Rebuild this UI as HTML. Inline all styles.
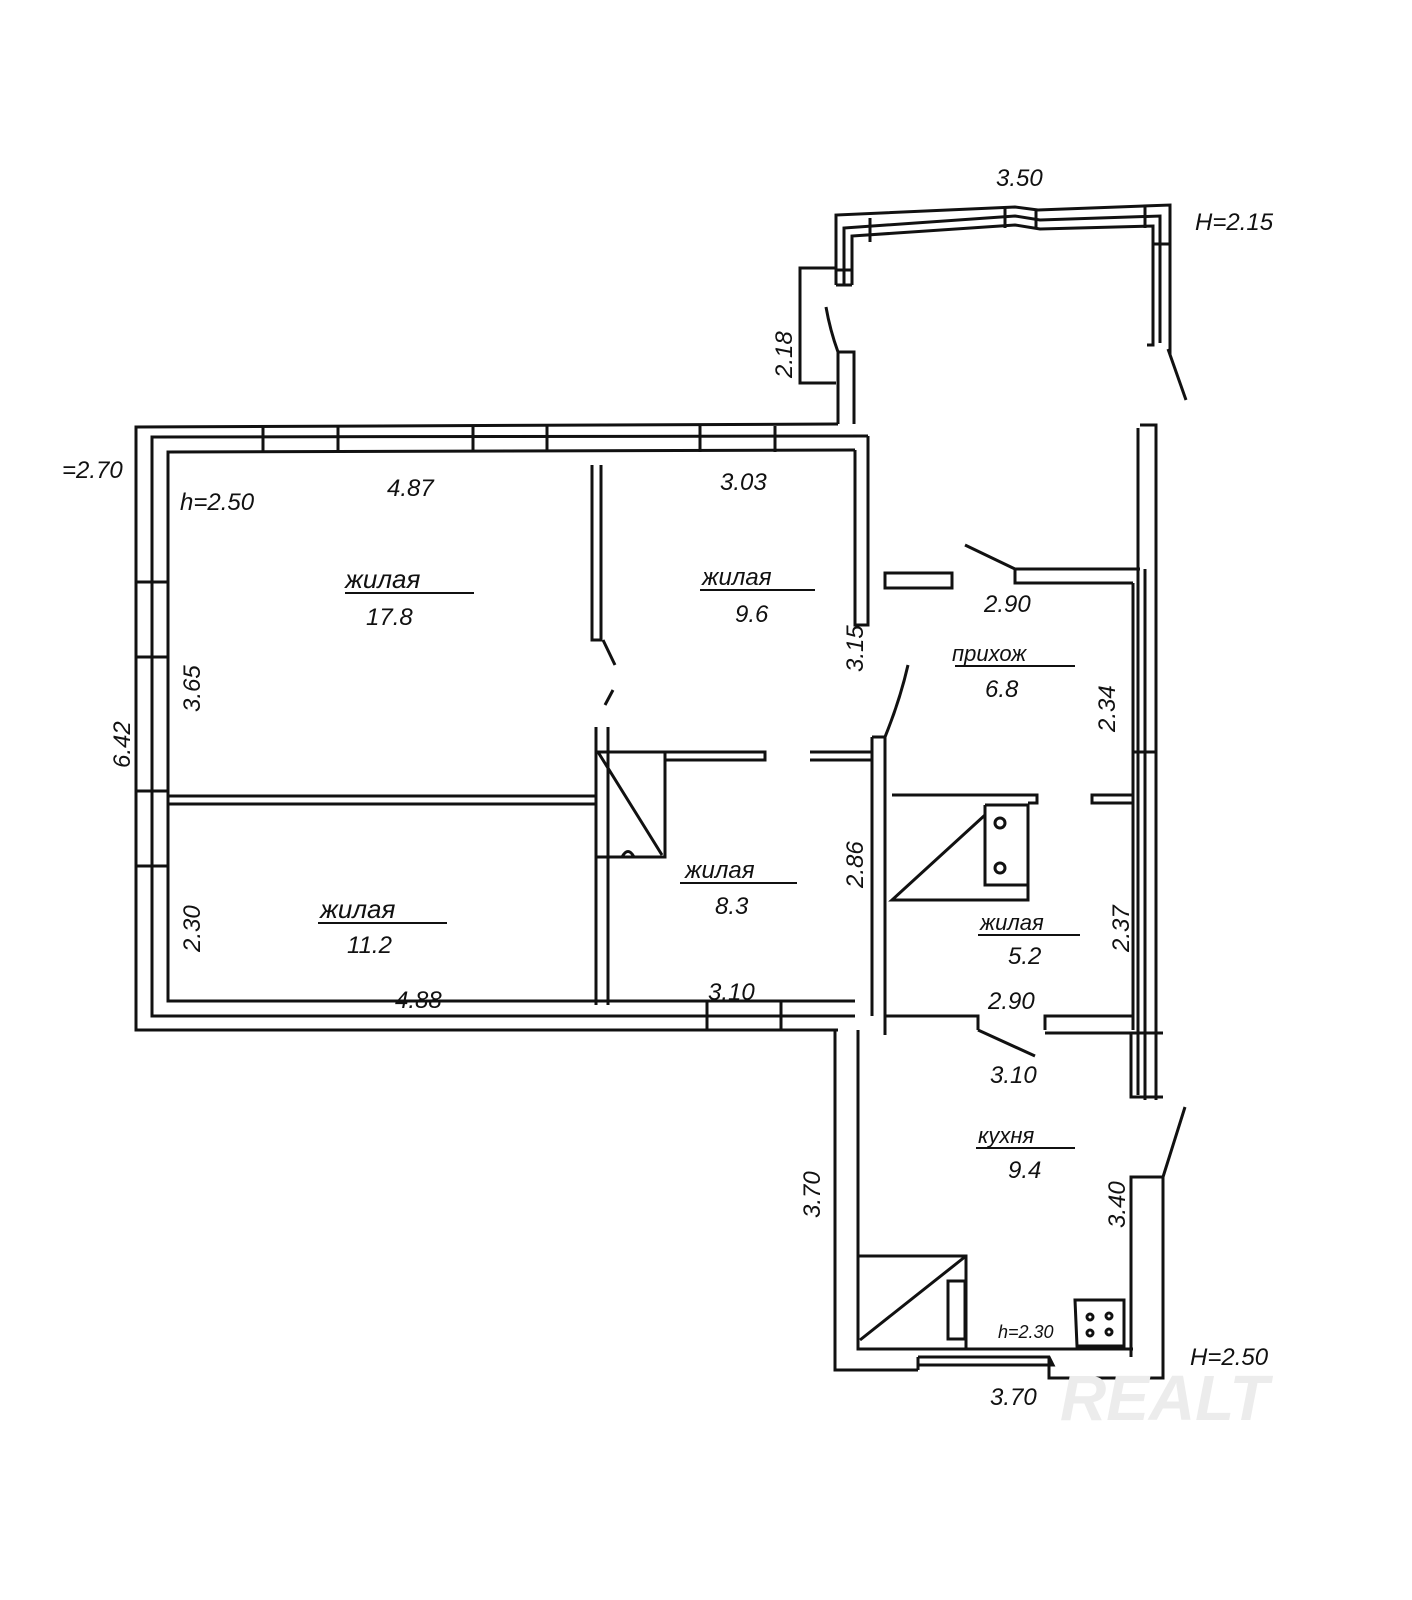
<!DOCTYPE html>
<html><head><meta charset="utf-8"><style>
html,body{margin:0;padding:0;background:#fff}
svg{display:block}
text{font-family:"Liberation Sans",sans-serif;font-style:italic;fill:#111}
</style></head><body>
<svg width="1412" height="1600" viewBox="0 0 1412 1600" xmlns="http://www.w3.org/2000/svg">
<g fill="none" stroke="#111" stroke-width="3">
<path d="M838 424 L136 427 L136 1030 L838 1030"/>
<path d="M868 436 L152 437 L152 1016 L855 1016"/>
<path d="M855 450 L168 452 L168 1001 L855 1001"/>
<path d="M855 450 L855 625 L868 625 L868 436"/>
<path d="M263 426 V452 M338 426 V452 M473 426 V452 M547 426 V452 M700 426 V452 M775 426 V452"/>
<path d="M136 582 H168 M136 657 H168 M136 791 H168 M136 866 H168"/>
<path d="M707 1001 V1030 M781 1001 V1030"/>
<path d="M592 465 V640 H601 V465"/>
<path d="M603 640 L615 665 M613 690 L605 705"/>
<path d="M596 727 V1005 M608 727 V1005"/>
<path d="M168 796 H596 M168 804 H596"/>
<path d="M596 752 H665 V857 H596 Z M598 752 L662 855"/>
<path d="M622 857 Q628 846 634 857"/>
<path d="M665 752 H765 V760 H665 M810 752 H872 V760 H810"/>
<path d="M872 737 V1016 M885 737 V1016 M872 737 H885"/>
<path d="M885 737 Q900 700 908 665"/>
<path d="M885 573 H952 V588 H885 Z"/>
<path d="M1015 569 H1140 M1015 569 V583 H1133 M1015 569 L965 545"/>
<path d="M1133 583 V1030 M1145 569 V1100 M1156 425 V1100 M1140 425 H1156 V569"/>
<path d="M1133 752 H1156 M1138 428 V1095"/>
<path d="M892 795 H1037 V803 H1028"/>
<path d="M1092 795 H1133 V803 H1092 Z"/>
<path d="M985 805 H1028 V900 H892 L985 815 M985 805 V885 H1028"/>
<circle cx="1000" cy="823" r="5"/><circle cx="1000" cy="868" r="5"/>
<path d="M885 1016 H978 V1030 M1045 1030 V1016 H1133 M885 1016 V1035 M978 1030 L1035 1056"/>
<path d="M1045 1033 H1163"/>
<path d="M835 1030 V1370 H918 M858 1030 V1349 H1133 M918 1357 V1370"/>
<path d="M918 1357 H1049 L1053 1365 L918 1365"/>
<path d="M1049 1358 V1378 H1163 V1177 H1131 V1357 M1163 1177 L1185 1107"/>
<path d="M1131 1033 V1097 H1163"/>
<path d="M858 1256 H966 V1349 M860 1340 L966 1256 M948 1281 H965 V1339 H948 Z"/>
<path d="M1075 1300 H1124 V1346 H1077 Z"/>
<circle cx="1090" cy="1317" r="3"/><circle cx="1109" cy="1316" r="3"/>
<circle cx="1090" cy="1333" r="3"/><circle cx="1109" cy="1332" r="3"/>
<path d="M838 424 V352 H854 V424"/>
<path d="M838 352 Q830 330 826 307"/>
<path d="M836 383 H800 V268 H835"/>
<path d="M836 285 V215 L1015 207 L1038 210 L1170 205 V355"/>
<path d="M852 285 V236 L1015 225 L1040 229 L1153 226 V345 H1147 M1153 244 L1170 244"/>
<path d="M844 285 V228 L1015 216 L1040 220 L1160 216 V343"/>
<path d="M870 218 V242 M1005 207 V228 M1036 210 V229 M1145 205 V228"/>
<path d="M1168 349 L1186 400"/>
<path d="M836 270 H852 M836 285 H852"/>
</g>
<g stroke="#111" stroke-width="2">
<line x1="345" y1="593" x2="474" y2="593"/>
<line x1="700" y1="590" x2="815" y2="590"/>
<line x1="680" y1="883" x2="797" y2="883"/>
<line x1="318" y1="923" x2="447" y2="923"/>
<line x1="978" y1="935" x2="1080" y2="935"/>
<line x1="955" y1="666" x2="1075" y2="666"/>
<line x1="976" y1="1148" x2="1075" y2="1148"/>
</g>
<g font-size="24">
<text x="345" y="588" font-size="26">жилая</text>
<text x="366" y="625">17.8</text>
<text x="702" y="585">жилая</text>
<text x="735" y="622">9.6</text>
<text x="952" y="661" font-size="22">прихож</text>
<text x="985" y="697">6.8</text>
<text x="685" y="878">жилая</text>
<text x="715" y="914">8.3</text>
<text x="320" y="918" font-size="26">жилая</text>
<text x="347" y="953">11.2</text>
<text x="980" y="930" font-size="22">жилая</text>
<text x="1008" y="964">5.2</text>
<text x="978" y="1143" font-size="22">кухня</text>
<text x="1008" y="1178">9.4</text>
<text x="180" y="510">h=2.50</text>
<text x="387" y="496">4.87</text>
<text x="720" y="490">3.03</text>
<text x="984" y="612">2.90</text>
<text x="395" y="1008">4.88</text>
<text x="708" y="1000">3.10</text>
<text x="988" y="1009">2.90</text>
<text x="990" y="1083">3.10</text>
<text x="990" y="1405">3.70</text>
<text x="996" y="186">3.50</text>
<text x="1195" y="230">H=2.15</text>
<text x="1190" y="1365">H=2.50</text>
<text x="998" y="1338" font-size="18">h=2.30</text>
<text x="62" y="478">=2.70</text>
<text transform="translate(200,712) rotate(-90)">3.65</text>
<text transform="translate(200,952) rotate(-90)">2.30</text>
<text transform="translate(130,768) rotate(-90)">6.42</text>
<text transform="translate(863,888) rotate(-90)">2.86</text>
<text transform="translate(863,672) rotate(-90)">3.15</text>
<text transform="translate(1115,732) rotate(-90)">2.34</text>
<text transform="translate(1129,952) rotate(-90)">2.37</text>
<text transform="translate(1125,1228) rotate(-90)">3.40</text>
<text transform="translate(820,1218) rotate(-90)">3.70</text>
<text transform="translate(792,378) rotate(-90)">2.18</text>
<text x="1060" y="1420" font-size="64" font-style="normal" font-weight="bold" style="fill:#ececec">REALT</text>
</g>
</svg>
</body></html>
